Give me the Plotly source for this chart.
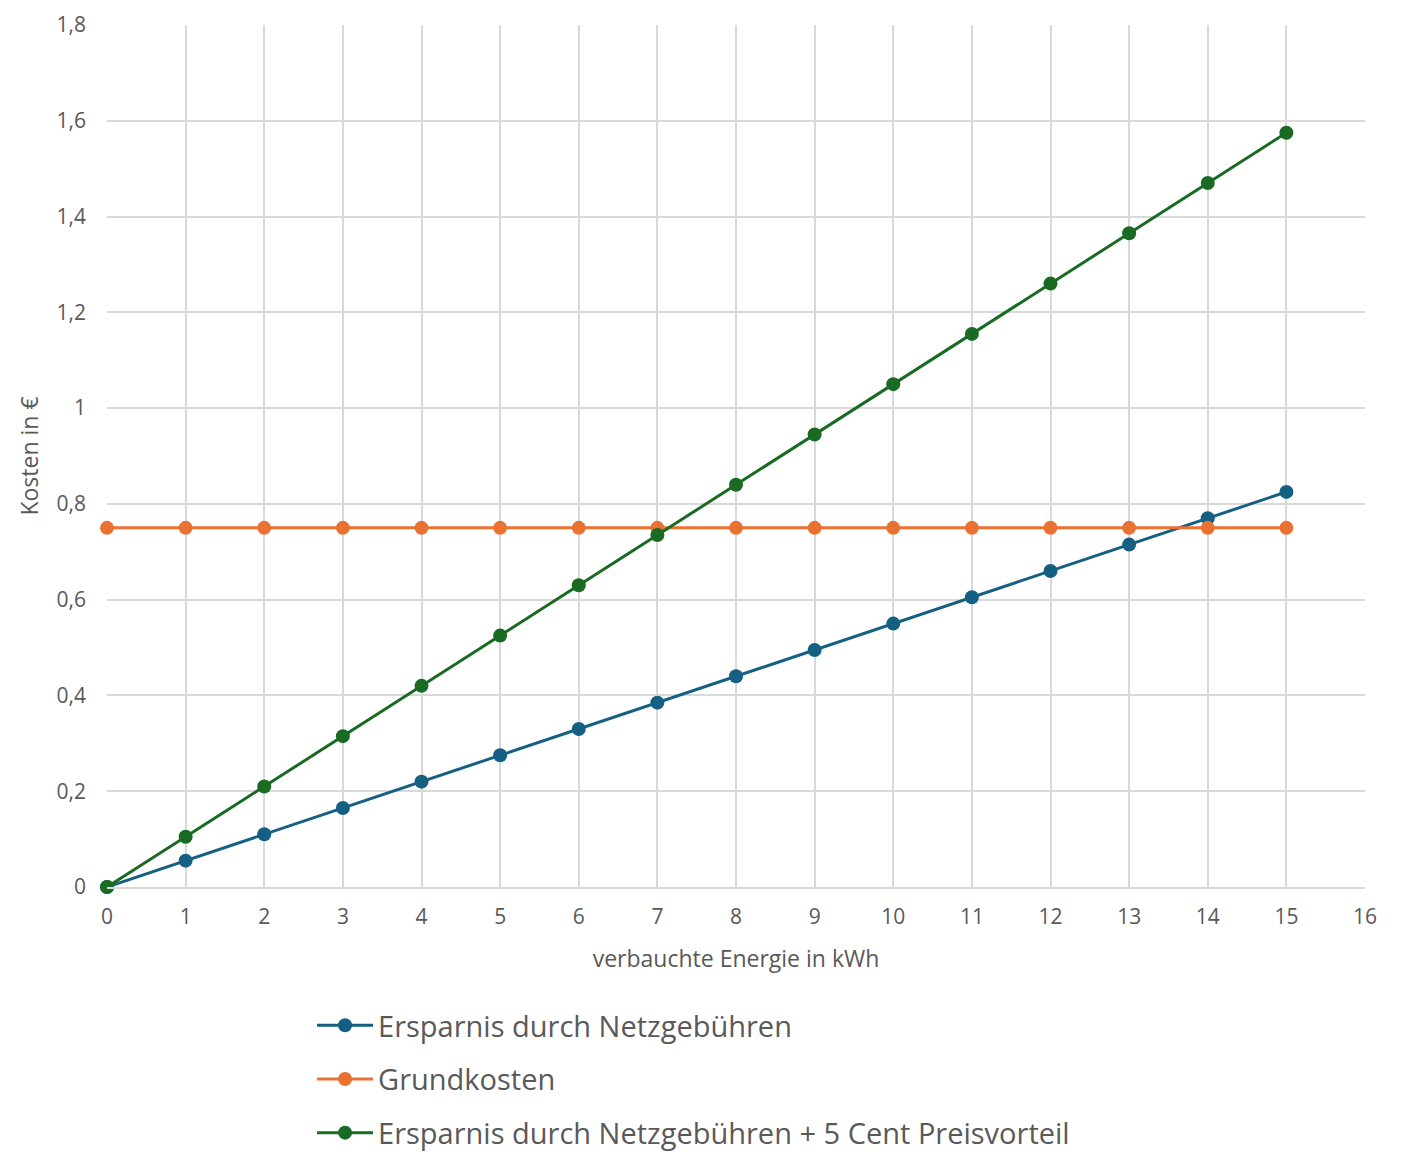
import plotly.graph_objects as go

x_kwh = [0, 1, 2, 3, 4, 5, 6, 7, 8, 9, 10, 11, 12, 13, 14, 15]
ersparnis_netz = [0, 0.055, 0.11, 0.165, 0.22, 0.275, 0.33, 0.385, 0.44, 0.495,
                  0.55, 0.605, 0.66, 0.715, 0.77, 0.825]
grundkosten = [0.75] * 16
ersparnis_plus5 = [0, 0.105, 0.21, 0.315, 0.42, 0.525, 0.63, 0.735, 0.84, 0.945,
                   1.05, 1.155, 1.26, 1.365, 1.47, 1.575]

names = ["Ersparnis durch Netzgebühren", "Grundkosten",
         "Ersparnis durch Netzgebühren + 5 Cent Preisvorteil"]
colors = ["#156082", "#E97132", "#196B24"]
series = [ersparnis_netz, grundkosten, ersparnis_plus5]

FONT = "Open Sans"
TXT = "#595959"
GRID = "#D9D9D9"

fig = go.Figure()
for i, (nm, col, ys) in enumerate(zip(names, colors, series)):
    fig.add_trace(go.Scatter(
        x=x_kwh, y=ys, name=nm, mode="lines+markers",
        line=dict(color=col, width=3),
        marker=dict(color=col, size=14),
        legendgroup=f"g{i}",
        cliponaxis=False,
    ))

fig.update_layout(
    width=1403, height=1154,
    margin=dict(l=99, r=46, t=17, b=275, autoexpand=False),
    plot_bgcolor="white", paper_bgcolor="white",
    separators=",.",
    font=dict(family=FONT, color=TXT, size=21),
    showlegend=True,
    legend=dict(
        orientation="v", x=0.163, xanchor="left", y=-0.131, yanchor="top",
        font=dict(size=29, color=TXT, family=FONT),
        tracegroupgap=13, itemwidth=56,
        bgcolor="rgba(0,0,0,0)",
    ),
)
fig.update_xaxes(
    range=[0, 16], dtick=1, tick0=0, automargin=False,
    showgrid=True, gridcolor=GRID, gridwidth=2,
    showline=True, linecolor=GRID, linewidth=2, mirror=False,
    zeroline=False, ticks="", ticklabelstandoff=10, ticklabeloverflow="allow",
    tickfont=dict(size=21, color=TXT),
    title=dict(text="verbauchte Energie in kWh", font=dict(size=23, color=TXT), standoff=22),
)
fig.update_yaxes(
    range=[0, 1.8], dtick=0.2, tick0=0, automargin=False,
    showgrid=True, gridcolor=GRID, gridwidth=2,
    showline=False, zeroline=False, ticks="", ticklabelstandoff=20, ticklabeloverflow="allow",
    tickfont=dict(size=21, color=TXT),
    title=dict(text="Kosten in €", font=dict(size=23, color=TXT), standoff=11),
)
fig.write_html("out.html")
